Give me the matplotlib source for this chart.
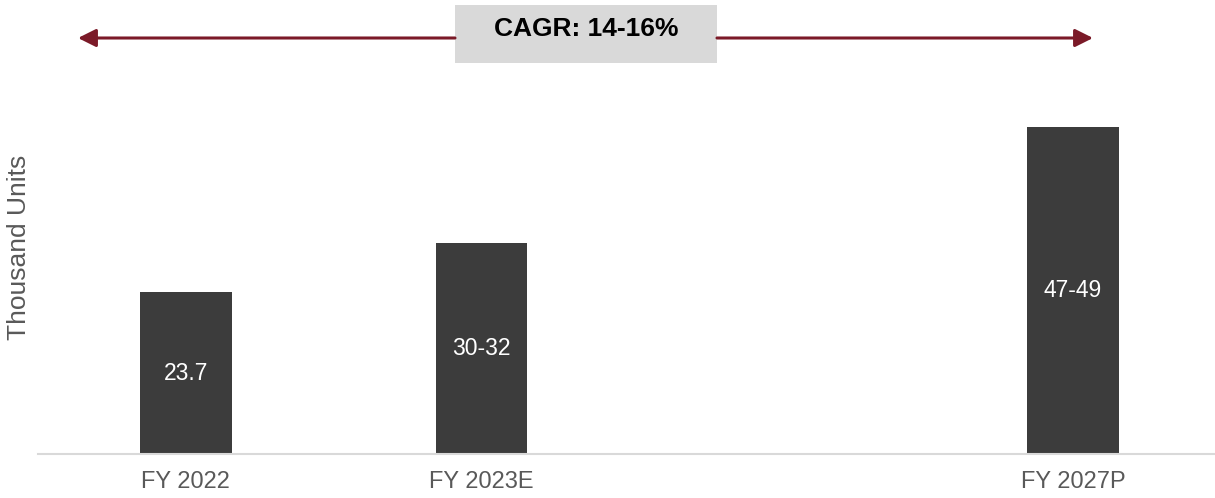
import matplotlib
matplotlib.use("Agg")
import matplotlib.pyplot as plt
from matplotlib.patches import Rectangle, FancyArrowPatch

plt.rcParams['font.family'] = ['Liberation Sans', 'DejaVu Sans']

# Data
categories = ["FY 2022", "FY 2023E", "FY 2027P"]
positions = [0, 1, 3]          # FY2024-FY2026 slots left empty
values = [23.7, 31, 48]        # midpoints of the stated ranges
value_labels = ["23.7", "30-32", "47-49"]
cagr_text = "CAGR: 14-16%"

W, H = 1215, 498
fig = plt.figure(figsize=(W / 100, H / 100), dpi=100)

# axes: left edge at x=38px, baseline at y=454px, top at figure top
ax = fig.add_axes([38 / W, (H - 454) / H, 1 - 38 / W, 454 / H])
bar_color = "#3C3C3C"
ax.bar(positions, values, width=0.31, color=bar_color, zorder=2)
ax.set_xlim(-0.5, 3.48)
ax.set_ylim(0, 454 / 6.82)

for x, v, lab in zip(positions, values, value_labels):
    ax.text(x, v / 2, lab, ha="center", va="center", color="white", fontsize=16.5)

ax.set_xticks(positions)
ax.set_xticklabels(categories, fontsize=17, color="#595959")
ax.tick_params(axis="x", length=0, pad=12)
ax.set_yticks([])
for side in ("top", "right", "left"):
    ax.spines[side].set_visible(False)
ax.spines["bottom"].set_color("#D9D9D9")
ax.spines["bottom"].set_linewidth(1.5)
ax.patch.set_visible(False)

# y-axis title
fig.text(19 / W, 1 - 247 / H, "Thousand Units", rotation=90, ha="center", va="center",
         fontsize=19, color="#595959")

# CAGR banner with arrows on both sides
def fx(px):
    return px / W

def fy(py):
    return 1 - py / H

box = Rectangle((fx(455), fy(63)), fx(717) - fx(455), fy(5) - fy(63),
                transform=fig.transFigure, facecolor="#D9D9D9", edgecolor="none")
fig.patches.append(box)
fig.text(fx(586), fy(29), cagr_text, ha="center", va="center", fontsize=19,
         fontweight="bold", color="black")

arrow_color = "#7B1A28"
arrow_y = fy(38)
for start, end in ((455, 78), (717, 1093)):
    arr = FancyArrowPatch((fx(start), arrow_y), (fx(end), arrow_y),
                          transform=fig.transFigure,
                          arrowstyle="-|>,head_length=0.6,head_width=0.3",
                          mutation_scale=18, color=arrow_color, linewidth=2.2,
                          shrinkA=0, shrinkB=0)
    fig.patches.append(arr)

fig.savefig("out.png", dpi=100)
